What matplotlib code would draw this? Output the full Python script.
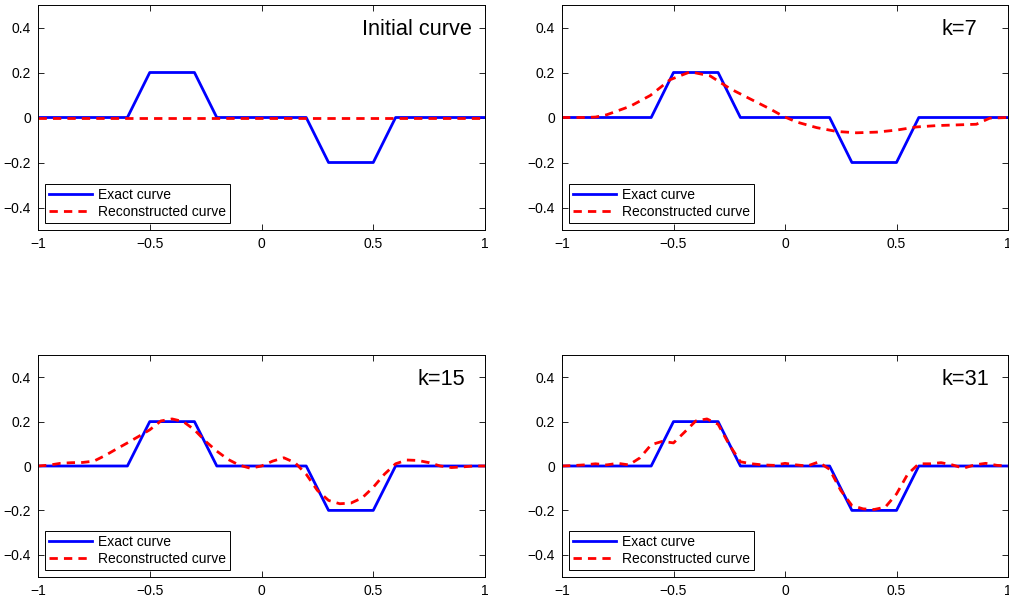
import numpy as np
import matplotlib
matplotlib.use("Agg")
import matplotlib.pyplot as plt

plt.rcParams['font.family'] = ['Liberation Sans', 'DejaVu Sans']

# exact curve (piecewise linear)
x_exact = [-1, -0.6, -0.5, -0.3, -0.2, 0.2, 0.3, 0.5, 0.6, 1]
y_exact = [0, 0, 0.2, 0.2, 0, 0, -0.2, -0.2, 0, 0]

# reconstructed curves
x_init = [-1, 1]
y_init = [0, 0]

x_k7 = [-1, -0.9, -0.85, -0.8, -0.694, -0.604, -0.515, -0.425, -0.336, -0.246,
        -0.157, -0.067, -0.007, 0.052, 0.142, 0.231, 0.321, 0.41, 0.5, 0.59,
        0.68, 0.768, 0.858, 0.918, 1]
y_k7 = [0, 0, 0.002, 0.012, 0.05, 0.098, 0.168, 0.203, 0.185, 0.128,
        0.083, 0.038, 0.005, -0.02, -0.045, -0.062, -0.068, -0.065, -0.056, -0.042,
        -0.036, -0.033, -0.03, -0.003, 0]

x_k15 = [-1, -0.95, -0.9, -0.85, -0.8, -0.75, -0.7, -0.65, -0.6, -0.55, -0.5, -0.45,
         -0.4, -0.35, -0.3, -0.25, -0.2, -0.15, -0.1, -0.05, 0, 0.05, 0.1, 0.15,
         0.2, 0.25, 0.3, 0.35, 0.4, 0.45, 0.5, 0.55, 0.6, 0.65, 0.7, 0.75, 0.8,
         0.85, 0.9, 0.95, 1]
y_k15 = [0, 0.004, 0.012, 0.015, 0.016, 0.022, 0.047, 0.076, 0.104, 0.133, 0.163, 0.203,
         0.212, 0.2, 0.163, 0.111, 0.067, 0.03, 0.004, -0.01, 0, 0.022, 0.037, 0.015,
         -0.037, -0.11, -0.155, -0.17, -0.167, -0.144, -0.096, -0.037, 0.01, 0.027, 0.025, 0.015, 0,
         -0.007, -0.004, 0, 0]

x_k31 = x_k15
y_k31 = [0, 0.002, 0.005, 0.01, 0.005, 0.012, 0.005, 0.037, 0.096, 0.111, 0.104, 0.153,
         0.203, 0.212, 0.188, 0.096, 0.019, 0.01, 0.005, 0.003, 0.012, 0.005, 0.0, 0.018,
         -0.015, -0.11, -0.178, -0.193, -0.196, -0.185, -0.126, -0.037, 0.01, 0.01, 0.015, 0.005, -0.01,
         0.005, 0.012, 0.003, 0]

panels = [
    (x_init, y_init, 'Initial curve', 0.45),
    (x_k7, y_k7, 'k=7', 0.70),
    (x_k15, y_k15, 'k=15', 0.70),
    (x_k31, y_k31, 'k=31', 0.70),
]

W, H = 1009, 603
fig = plt.figure(figsize=(W / 100, H / 100), dpi=100)
rects = [
    (38, 5, 447, 225),
    (562, 5, 446, 225),
    (38, 355, 447, 222),
    (562, 355, 446, 222),
]

for (xr, yr, label, tx), (l, t, w, h) in zip(panels, rects):
    ax = fig.add_axes([l / W, 1 - (t + h) / H, w / W, h / H])
    ax.plot(x_exact, y_exact, color='#0000ff', lw=2.0, label='Exact curve')
    ax.plot(xr, yr, color='#ff0000', lw=2.0, ls=(0, (3, 2.2)), label='Reconstructed curve')
    ax.set_xlim(-1, 1)
    ax.set_ylim(-0.5, 0.5)
    ax.set_xticks([-1, -0.5, 0, 0.5, 1])
    ax.set_xticklabels(['\u22121', '\u22120.5', '0', '0.5', '1'])
    ax.set_yticks([-0.4, -0.2, 0, 0.2, 0.4])
    ax.set_yticklabels(['\u22120.4', '\u22120.2', '0', '0.2', '0.4'])
    ax.tick_params(direction='in', top=True, right=True, length=4, width=0.6,
                   labelsize=10, pad=5)
    for s in ax.spines.values():
        s.set_linewidth(0.7)
    ax.text(tx, 0.39, label, fontsize=15.7, ha='left', va='center')
    leg = ax.legend(loc='lower left', bbox_to_anchor=(0.016, 0.031), borderaxespad=0,
                    fontsize=10, handlelength=3.1, labelspacing=0.22,
                    fancybox=False, framealpha=1, edgecolor='black',
                    borderpad=0.3, handletextpad=0.4)
    leg.get_frame().set_linewidth(0.7)

fig.savefig('out.png', dpi=100)
